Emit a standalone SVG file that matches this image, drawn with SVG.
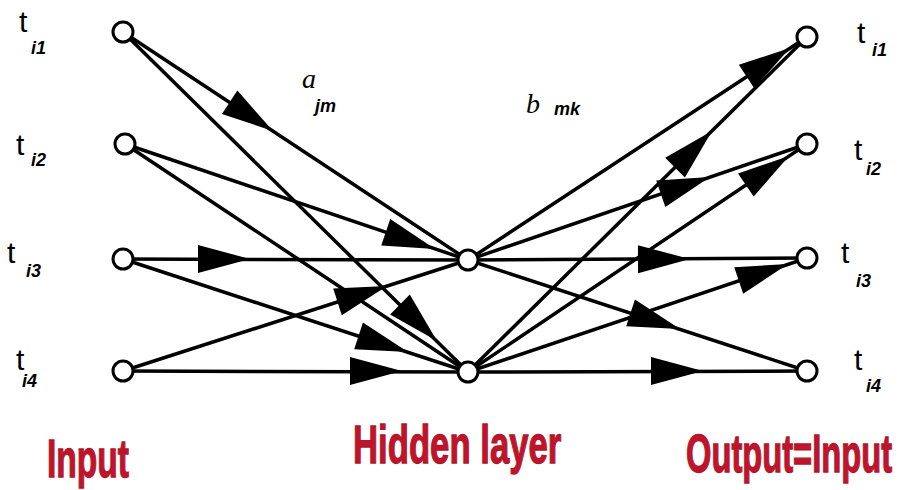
<svg xmlns="http://www.w3.org/2000/svg" xmlns:xlink="http://www.w3.org/1999/xlink" width="904" height="490" viewBox="0 0 904 490">
<style>
.edge{stroke:#000;stroke-width:3.5;fill:none;stroke-linecap:round}
.node{fill:#fff;stroke:#000;stroke-width:3}
.t{font-family:"Liberation Sans",Arial,sans-serif;font-size:30px;fill:#000}
.sub{font-family:"Liberation Sans",Arial,sans-serif;font-size:18px;font-weight:bold;font-style:italic;fill:#000}
.w{font-family:"Liberation Serif","Times New Roman",serif;font-size:28px;font-style:italic;fill:#000}
.cap{font-family:"Liberation Sans",Arial,sans-serif;font-size:53px;font-weight:bold;fill:#c0142c;stroke:#b0162a;stroke-width:1.3}
</style>
<defs>
<path id="ah" d="M0,0 L-52,-14 L-52,14 Z" fill="#000"/>
</defs>
<rect width="904" height="490" fill="#fff"/>
<g id="connectors">
<line class="edge" x1="123" y1="32" x2="468" y2="260"/>
<line class="edge" x1="123" y1="32" x2="468" y2="372"/>
<line class="edge" x1="125" y1="144" x2="468" y2="260"/>
<line class="edge" x1="125" y1="144" x2="468" y2="372"/>
<line class="edge" x1="123" y1="259" x2="468" y2="260"/>
<line class="edge" x1="123" y1="259" x2="468" y2="372"/>
<line class="edge" x1="123" y1="371" x2="468" y2="260"/>
<line class="edge" x1="123" y1="371" x2="468" y2="372"/>
<line class="edge" x1="468" y1="260" x2="807" y2="37"/>
<line class="edge" x1="468" y1="260" x2="807" y2="144"/>
<line class="edge" x1="468" y1="260" x2="807" y2="258"/>
<line class="edge" x1="468" y1="260" x2="807" y2="371"/>
<line class="edge" x1="468" y1="372" x2="807" y2="37"/>
<line class="edge" x1="468" y1="372" x2="807" y2="144"/>
<line class="edge" x1="468" y1="372" x2="807" y2="258"/>
<line class="edge" x1="468" y1="372" x2="807" y2="371"/>
<use xlink:href="#ah" transform="translate(273,131) rotate(33.5)"/>
<use xlink:href="#ah" transform="translate(437,341) rotate(44.6)"/>
<use xlink:href="#ah" transform="translate(435,249) rotate(18.7)"/>
<use xlink:href="#ah" transform="translate(250,259) rotate(0)"/>
<use xlink:href="#ah" transform="translate(408,352) rotate(18.1)"/>
<use xlink:href="#ah" transform="translate(387,286) rotate(-17.8)"/>
<use xlink:href="#ah" transform="translate(402,371) rotate(0)"/>
<use xlink:href="#ah" transform="translate(790,48) rotate(-33.3)"/>
<use xlink:href="#ah" transform="translate(712,131) rotate(-44.7)"/>
<use xlink:href="#ah" transform="translate(710,177) rotate(-18.9)"/>
<use xlink:href="#ah" transform="translate(789,156) rotate(-33.9)"/>
<use xlink:href="#ah" transform="translate(690,259) rotate(-0.3)"/>
<use xlink:href="#ah" transform="translate(788,264) rotate(-18.6)"/>
<use xlink:href="#ah" transform="translate(680,329) rotate(18.1)"/>
<use xlink:href="#ah" transform="translate(703,371) rotate(0)"/>
</g>
<g id="in1"><circle class="node" cx="123" cy="32" r="10"/><text class="t" x="19" y="32">t</text><text class="sub" x="31" y="54">i1</text></g>
<g id="in2"><circle class="node" cx="125" cy="144" r="10"/><text class="t" x="16" y="155">t</text><text class="sub" x="31" y="166">i2</text></g>
<g id="in3"><circle class="node" cx="123" cy="259" r="10"/><text class="t" x="7" y="263">t</text><text class="sub" x="26" y="277">i3</text></g>
<g id="in4"><circle class="node" cx="123" cy="371" r="10"/><text class="t" x="16" y="370">t</text><text class="sub" x="22" y="387">i4</text></g>
<g id="hid1"><circle class="node" cx="468" cy="260" r="10"/></g>
<g id="hid2"><circle class="node" cx="468" cy="372" r="10"/></g>
<g id="out1"><circle class="node" cx="807" cy="37" r="10"/><text class="t" x="857" y="43">t</text><text class="sub" x="872" y="56">i1</text></g>
<g id="out2"><circle class="node" cx="807" cy="144" r="10"/><text class="t" x="854" y="160">t</text><text class="sub" x="866" y="175">i2</text></g>
<g id="out3"><circle class="node" cx="807" cy="258" r="10"/><text class="t" x="841" y="263">t</text><text class="sub" x="856" y="287">i3</text></g>
<g id="out4"><circle class="node" cx="807" cy="371" r="10"/><text class="t" x="854" y="370">t</text><text class="sub" x="866" y="392">i4</text></g>
<g id="weights">
<text class="w" x="302" y="88">a</text><text class="sub" x="315" y="112">jm</text>
<text class="w" x="526" y="113">b</text><text class="sub" x="554" y="115">mk</text>
</g>
<g id="captions">
<text class="cap" transform="translate(47,477) scale(0.633,1)">Input</text>
<text class="cap" transform="translate(353,463) scale(0.655,1)">Hidden layer</text>
<text class="cap" transform="translate(686,472) scale(0.617,1)">Output=Input</text>
</g>
</svg>
